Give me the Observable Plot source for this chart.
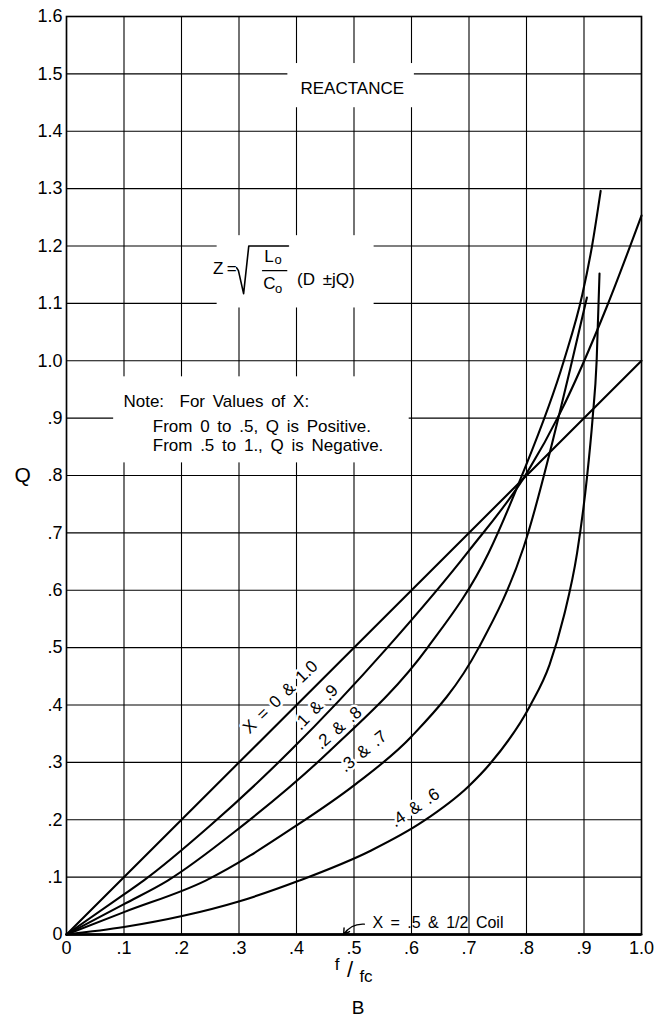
<!DOCTYPE html>
<html><head><meta charset="utf-8">
<script src="https://cdn.jsdelivr.net/npm/d3@7"></script>
<script src="https://cdn.jsdelivr.net/npm/@observablehq/plot@0.6"></script>
<style>
body{margin:0;background:#fff;}
svg text{word-spacing:3px;}
</style></head><body><div id="chart"></div>
<script>
// ---- tick values and labels ----
const xTicks = [0, 0.1, 0.2, 0.3, 0.4, 0.5, 0.6, 0.7, 0.8, 0.9, 1.0];
const xTickLabels = ["0", ".1", ".2", ".3", ".4", ".5", ".6", ".7", ".8", ".9", "1.0"];
const yTicks = [0, 0.1, 0.2, 0.3, 0.4, 0.5, 0.6, 0.7, 0.8, 0.9, 1.0, 1.1, 1.2, 1.3, 1.4, 1.5, 1.6];
const yTickLabels = ["0", ".1", ".2", ".3", ".4", ".5", ".6", ".7", ".8", ".9", "1.0", "1.1", "1.2", "1.3", "1.4", "1.5", "1.6"];

// ---- series (f/fc, Q) ----
const seriesNames = ["X = 0 & 1.0", ".1 & .9", ".2 & .8", ".3 & .7", ".4 & .6", "X = .5 & 1/2 Coil"];
const f_x0 = [0, 1.0];
const q_x0 = [0, 1.0];
const f_x1 = [0, 0.1, 0.134, 0.25, 0.39, 0.558, 0.70, 0.801, 0.859, 0.94, 1.0];
const q_x1 = [0, 0.07, 0.094, 0.19, 0.321, 0.5, 0.669, 0.805, 0.91, 1.095, 1.253];
const f_x2 = [0, 0.1, 0.176, 0.3, 0.459, 0.628, 0.734, 0.79, 0.865, 0.897, 0.914, 0.929];
const q_x2 = [0, 0.053, 0.094, 0.185, 0.321, 0.5, 0.665, 0.795, 1.0, 1.115, 1.2, 1.296];
const f_x3 = [0, 0.1, 0.242, 0.4, 0.5, 0.6, 0.717, 0.795, 0.877, 0.905];
const q_x3 = [0, 0.039, 0.094, 0.19, 0.26, 0.345, 0.5, 0.675, 0.99, 1.11];
const f_x4 = [0, 0.1, 0.205, 0.301, 0.405, 0.529, 0.62, 0.699, 0.737, 0.807, 0.84, 0.865, 0.888, 0.905, 0.915, 0.922, 0.927];
const q_x4 = [0, 0.013, 0.033, 0.058, 0.094, 0.146, 0.197, 0.258, 0.298, 0.40, 0.47, 0.555, 0.665, 0.795, 0.9, 1.0, 1.152];
const f_x5 = [0, 1.0];
const q_x5 = [0, 0];

// ---- annotation text ----
const titleText = "REACTANCE";
const noteLines = ["Note:  For Values of X:", "From 0 to .5, Q is Positive.", "From .5 to 1., Q is Negative."];
const curveLabels = seriesNames.slice(0, 5);
const coilLabel = seriesNames[5];

// ---- build table ----
const fs = [f_x0, f_x1, f_x2, f_x3, f_x4, f_x5];
const qs = [q_x0, q_x1, q_x2, q_x3, q_x4, q_x5];
const rows = [];
fs.forEach((fa, s) => fa.forEach((f, i) => rows.push({series: seriesNames[s], f, q: qs[s][i]})));

// annotation placement (data coordinates)
const boxes = [
  {x1: 0.385, x2: 0.605, y1: 1.441, y2: 1.518},
  {x1: 0.262, x2: 0.535, y1: 1.092, y2: 1.218},
  {x1: 0.082, x2: 0.596, y1: 0.822, y2: 0.972}
];
const labelPos = [
  {x: 0.372, y: 0.414, r: -44},
  {x: 0.434, y: 0.396, r: -46},
  {x: 0.473, y: 0.360, r: -41},
  {x: 0.516, y: 0.319, r: -39},
  {x: 0.606, y: 0.221, r: -34}
];
const radical = [{f: 0.296, q: 1.162}, {f: 0.299, q: 1.157}, {f: 0.308, q: 1.117}, {f: 0.317, q: 1.200}, {f: 0.386, q: 1.200}];
const fracBar = [{f: 0.341, q: 1.157}, {f: 0.383, q: 1.157}];

const font = "'Liberation Sans', Arial, sans-serif";

const chart = Plot.plot({
  width: 670, height: 1024,
  marginTop: 16, marginLeft: 66, marginRight: 29, marginBottom: 90,
  style: {fontFamily: font, fontSize: "18px", background: "white", color: "black"},
  x: {domain: [0, 1], ticks: xTicks, tickSize: 0, tickPadding: 7, label: null,
      tickFormat: d => xTickLabels[xTicks.indexOf(d)]},
  y: {domain: [0, 1.6], ticks: yTicks, tickSize: 0, tickPadding: 4, label: null,
      tickFormat: d => yTickLabels[yTicks.indexOf(d)]},
  marks: [
    Plot.ruleX(xTicks, {stroke: "black", strokeWidth: 1.1}),
    Plot.ruleY(yTicks, {stroke: "black", strokeWidth: 1.1}),
    Plot.rect(boxes, {x1: "x1", x2: "x2", y1: "y1", y2: "y2", fill: "white"}),
    // title & note
    Plot.text([titleText], {x: () => 0.497, y: () => 1.474, text: d => d, fontSize: 17}),
    Plot.text(noteLines, {x: (d, i) => i === 0 ? 0.099 : 0.150, y: (d, i) => [0.929, 0.885, 0.852][i], text: d => d, textAnchor: "start", fontSize: 17}),
    // formula
    Plot.text(["Z\u2009="], {x: () => 0.296, y: () => 1.160, text: d => d, textAnchor: "end", fontSize: 17}),
    Plot.line(radical, {x: "f", y: "q", stroke: "black", strokeWidth: 1.6}),
    Plot.line(fracBar, {x: "f", y: "q", stroke: "black", strokeWidth: 1.4}),
    Plot.text(["L"], {x: () => 0.352, y: () => 1.181, text: d => d, fontSize: 17}),
    Plot.text(["o"], {x: () => 0.368, y: () => 1.176, text: d => d, fontSize: 13}),
    Plot.text(["C"], {x: () => 0.353, y: () => 1.134, text: d => d, fontSize: 17}),
    Plot.text(["o"], {x: () => 0.369, y: () => 1.126, text: d => d, fontSize: 13}),
    Plot.text(["(D ±jQ)"], {x: () => 0.401, y: () => 1.141, text: d => d, textAnchor: "start", fontSize: 17}),
    // curve labels
    Plot.text(curveLabels, {x: (d, i) => labelPos[i].x, y: (d, i) => labelPos[i].y, rotate: (d, i) => labelPos[i].r,
      text: d => d, fontSize: 17, stroke: "white", strokeWidth: 5, fill: "black"}),
    Plot.text([coilLabel], {x: () => 0.532, y: () => 0.020, text: d => d, textAnchor: "start", fontSize: 16}),
    Plot.arrow([{x1: 0.518, y1: 0.018, x2: 0.482, y2: 0.0}], {x1: "x1", y1: "y1", x2: "x2", y2: "y2", bend: -30, headLength: 7, strokeWidth: 1.4, stroke: "black"}),
    // curves
    Plot.line(rows, {x: "f", y: "q", z: "series", curve: "monotone-x", stroke: "black", strokeWidth: 2.1}),
    Plot.ruleY([0], {stroke: "black", strokeWidth: 2.5}),
    Plot.frame({stroke: "black", strokeWidth: 1.6}),
    // axis labels
    Plot.text(["Q"], {y: () => 0.8, frameAnchor: "left", dx: -52, text: d => d, fontSize: 21}),
    Plot.text(["f"], {x: () => 0.5, frameAnchor: "bottom", dx: -17, dy: 35, text: d => d, fontSize: 17}),
    Plot.text(["/"], {x: () => 0.5, frameAnchor: "bottom", dx: -4, dy: 42, text: d => d, fontSize: 22}),
    Plot.text(["fc"], {x: () => 0.5, frameAnchor: "bottom", dx: 12, dy: 47, text: d => d, fontSize: 17}),
    Plot.text(["B"], {x: () => 0.5, frameAnchor: "bottom", dx: 4, dy: 79, text: d => d, fontSize: 19})
  ]
});
document.getElementById("chart").appendChild(chart);
</script></body></html>
